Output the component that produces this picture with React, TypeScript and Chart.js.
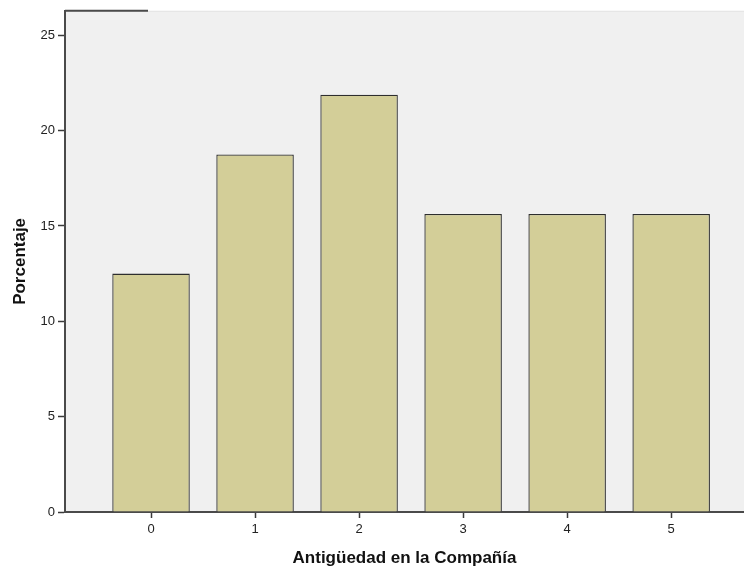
import React, { useEffect, useRef } from "react";
import { Chart, registerables } from "chart.js";

Chart.register(...registerables);

const categories = ["0", "1", "2", "3", "4", "5"];
const percentages = [12.5, 18.75, 21.875, 15.625, 15.625, 15.625];
const yTicks = [0, 5, 10, 15, 20, 25];
const xTitle = "Antigüedad en la Compañía";
const yTitle = "Porcentaje";

const FONT = "'Liberation Sans', Arial, sans-serif";

const bgPlugin = {
  id: "plotBg",
  beforeDraw(chart: any) {
    const { ctx, chartArea } = chart;
    ctx.save();
    ctx.fillStyle = "#f0f0f0";
    ctx.fillRect(chartArea.left, chartArea.top, chartArea.right - chartArea.left, chartArea.bottom - chartArea.top);
    ctx.fillStyle = "#e4e4e4";
    ctx.fillRect(chartArea.left, chartArea.top, chartArea.right - chartArea.left, 1);
    ctx.strokeStyle = "#4a4a4a";
    ctx.lineWidth = 2;
    ctx.beginPath();
    ctx.moveTo(chartArea.left, chartArea.top);
    ctx.lineTo(chartArea.left + 83, chartArea.top);
    ctx.stroke();
    ctx.restore();
  },
};

export default function App() {
  const ref = useRef<HTMLCanvasElement | null>(null);
  useEffect(() => {
    if (!ref.current) return;
    const data = categories.map((c, i) => ({ x: Number(c), y: percentages[i] }));
    const chart = new Chart(ref.current, {
      type: "bar",
      data: {
        datasets: [
          {
            data: data as any,
            backgroundColor: "#d3ce98",
            borderColor: "#2e2e2e",
            borderWidth: 1.3,
            barPercentage: 0.745,
            categoryPercentage: 1,
          },
        ],
      },
      options: {
        animation: false,
        responsive: false,
        maintainAspectRatio: false,
        layout: { padding: { top: 10, right: 0, left: 0, bottom: 0 } },
        plugins: { legend: { display: false }, tooltip: { enabled: false } },
        scales: {
          x: {
            type: "linear",
            offset: false,
            min: -0.827,
            max: 5.7,
            afterBuildTicks: (s: any) => {
              s.ticks = categories.map((c) => ({ value: Number(c) }));
            },
            afterFit: (s: any) => {
              s.height = 57;
            },
            ticks: {
              callback: (v: any) => String(v),
              color: "#222",
              font: { family: FONT, size: 13 },
              padding: 4,
            },
            grid: {
              offset: false,
              drawOnChartArea: false,
              drawTicks: true,
              tickLength: 6,
              tickColor: "#3a3a3a",
              tickWidth: 1.5,
            },
            border: { color: "#4a4a4a", width: 2 },
            title: {
              display: true,
              text: xTitle,
              color: "#111",
              font: { family: FONT, size: 17, weight: "bold" },
              padding: { top: 6, bottom: 0 },
            },
          },
          y: {
            type: "linear",
            min: 0,
            max: 26.28,
            afterBuildTicks: (s: any) => {
              s.ticks = yTicks.map((v) => ({ value: v }));
            },
            afterFit: (s: any) => {
              s.width = 65;
            },
            ticks: {
              color: "#222",
              font: { family: FONT, size: 13 },
              padding: 3,
            },
            grid: {
              drawOnChartArea: false,
              drawTicks: true,
              tickLength: 7,
              tickColor: "#3a3a3a",
              tickWidth: 1.5,
            },
            border: { color: "#4a4a4a", width: 2 },
            title: {
              display: true,
              text: yTitle,
              color: "#111",
              font: { family: FONT, size: 17, weight: "bold" },
              padding: { top: 10, bottom: 0 },
            },
          },
        },
      },
      plugins: [bgPlugin],
    });
    return () => chart.destroy();
  }, []);
  return (
    <div style={{ position: "absolute", left: 0, top: 0, width: 744, height: 569, background: "#fff" }}>
      <canvas ref={ref} width={744} height={569} style={{ width: 744, height: 569, display: "block" }} />
    </div>
  );
}
